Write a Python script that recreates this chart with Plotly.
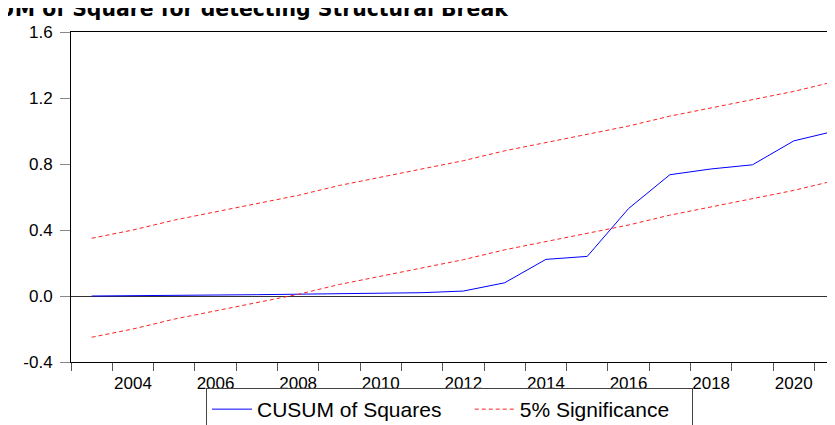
import plotly.graph_objects as go

years = list(range(2003, 2022))
cusum_sq = [0.0, 0.001, 0.002, 0.005, 0.008, 0.011, 0.013, 0.015, 0.02, 0.03,
            0.08, 0.222, 0.24, 0.53, 0.735, 0.77, 0.795, 0.94, 1.0]
upper_5 = [0.35, 0.40, 0.46, 0.51, 0.56, 0.61, 0.67, 0.72, 0.77, 0.82,
           0.88, 0.93, 0.98, 1.03, 1.09, 1.14, 1.19, 1.24, 1.30]
lower_5 = [-0.25, -0.20, -0.14, -0.09, -0.04, 0.01, 0.07, 0.12, 0.17, 0.22,
           0.28, 0.33, 0.38, 0.43, 0.49, 0.54, 0.59, 0.64, 0.70]
x_tick_vals = [2004, 2006, 2008, 2010, 2012, 2014, 2016, 2018, 2020]
x_tick_text = [str(v) for v in x_tick_vals]
y_tick_vals = [-0.4, 0.0, 0.4, 0.8, 1.2, 1.6]
y_tick_text = ["-0.4", "0.0", "0.4", "0.8", "1.2", "1.6"]
title_text = "CUSUM of Square for detecting Structural Break"
legend_names = ["CUSUM of Squares", "5% Significance"]

W, H = 835, 425
ml, mt, mb, mr = 63, 24, 71, 0
plot_w = W - ml - mr
plot_h = H - mt - mb
px_per_year = 41.3
x0 = 2002.5
x1 = x0 + plot_w / px_per_year
NB = "\u00a0"

fig = go.Figure()
fig.add_trace(go.Scatter(x=years, y=cusum_sq, mode="lines", name=legend_names[0] + NB * 4,
                         line=dict(color="#0000FF", width=1)))
fig.add_trace(go.Scatter(x=years, y=upper_5, mode="lines", name=legend_names[1] + NB * 3,
                         line=dict(color="#FF2020", width=1, dash="4px,3px")))
fig.add_trace(go.Scatter(x=years, y=lower_5, mode="lines", name=legend_names[1],
                         showlegend=False,
                         line=dict(color="#FF2020", width=1, dash="4px,3px")))

fig.update_layout(
    width=W, height=H,
    margin=dict(l=ml, r=mr, t=mt, b=mb, pad=0, autoexpand=False),
    paper_bgcolor="white", plot_bgcolor="white",
    font=dict(family="Liberation Sans, Arial, sans-serif", size=17, color="black"),
    showlegend=True,
    legend=dict(orientation="h", xref="container", x=198 / W, xanchor="left",
                yref="container", y=1 - 380 / H, yanchor="top",
                bordercolor="#444444", borderwidth=1, bgcolor="white",
                font=dict(size=21), itemwidth=40, traceorder="normal"),
    annotations=[dict(text="<b>" + title_text + "</b>", xref="paper", yref="paper",
                      x=(502 - ml) / plot_w, xanchor="right",
                      y=1 + (mt - 1) / plot_h, yanchor="middle",
                      showarrow=False,
                      font=dict(family="DejaVu Sans, Verdana, sans-serif", size=20.4,
                                color="black"))],
)

fig.update_xaxes(
    range=[x0, x1], tickmode="array", tickvals=x_tick_vals, ticktext=x_tick_text,
    ticks="", showgrid=False, zeroline=False,
    showline=True, linecolor="black", linewidth=1, mirror=True,
    ticklabelstandoff=6, tickfont=dict(size=17), automargin=False,
    minor=dict(ticks="outside", tickmode="linear", tick0=2002.5, dtick=1,
               ticklen=8, tickcolor="#555555", tickwidth=1, showgrid=False),
)
fig.update_yaxes(
    range=[-0.4, 1.6], tickmode="array", tickvals=y_tick_vals, ticktext=y_tick_text,
    ticks="outside", ticklen=10, tickcolor="#888888", tickwidth=1,
    showgrid=False, zeroline=True, zerolinecolor="#333333", zerolinewidth=1,
    showline=True, linecolor="black", linewidth=1, mirror=False,
    ticklabelstandoff=4, tickfont=dict(size=17), automargin=False,
)

fig.write_html("out.html")
